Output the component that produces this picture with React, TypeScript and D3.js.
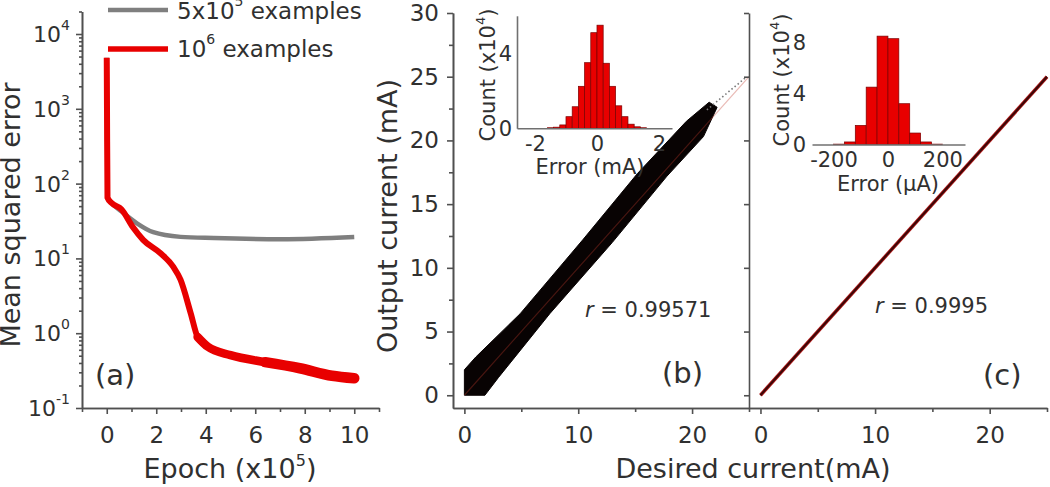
import * as d3 from 'd3'
import { useEffect, useRef } from 'react'

// (a) training curves, epoch in units of 1e5
const epochLarge = [0, 0.01, 0.03, 0.2, 0.6, 1.06, 1.47, 2.16, 2.69, 2.98, 3.39, 3.67, 4.08, 5.0, 6.4, 7.8, 9.1, 10.0]
const mseLarge = [4800, 1000, 65, 55, 45, 26, 17.7, 11.8, 7.7, 5.2, 1.86, 0.89, 0.66, 0.51, 0.41, 0.34, 0.27, 0.25]
const epochSmall = [0, 0.01, 0.03, 0.2, 0.65, 1.22, 1.88, 2.98, 4.33, 7.06, 10.0]
const mseSmall = [4800, 1000, 65, 55, 41, 29.5, 22.4, 19.4, 18.7, 18.1, 19.4]
const epochTicks = [0, 2, 4, 6, 8, 10]
const epochMinor = [-1, 1, 3, 5, 7, 9, 11]
const mseExponents = [-1, 0, 1, 2, 3, 4]

// (b) scatter envelope of output vs desired current (mA)
const bandDesired = [0, 0, 1.0, 4.9, 10.4, 15.2, 19.5, 21.5, 22.2, 21.0, 17.8, 13.0, 7.5, 3.0, 1.8]
const bandOutput = [0, 2.0, 3.0, 6.4, 12.2, 17.4, 21.5, 23.0, 22.6, 20.3, 17.2, 12.0, 6.4, 1.4, 0]
const sparseDesired = [21.3, 24.8]
const sparseOutput = [22.4, 25.0]
const fitDesired = [0, 25]
const fitOutput = [0, 25]

// (c) output vs desired
const cDesired = [0, 25]
const cOutput = [0, 25]

const currentTicks = [0, 10, 20]
const currentMinor = [5, 15, 25]
const outputTicks = [0, 5, 10, 15, 20, 25, 30]
const outputMinor = [2.5, 7.5, 12.5, 17.5, 22.5, 27.5]

// inset histograms (count in units of 1e4)
const binWidthB = 0.2
const binsB = [-1.6, -1.4, -1.2, -1.0, -0.8, -0.6, -0.4, -0.2, 0, 0.2, 0.4, 0.6, 0.8, 1.0, 1.2, 1.4]
const countsB = [0.03, 0.06, 0.18, 0.62, 1.15, 2.24, 3.5, 5.1, 5.5, 3.47, 2.24, 1.2, 0.62, 0.22, 0.08, 0.03]
const errorTicksB = [-2, 0, 2]
const countTicksB = [0, 4]

const binWidthC = 40
const binsC = [-200, -160, -120, -80, -40, 0, 40, 80, 120, 160]
const countsC = [0.03, 0.2, 1.5, 4.5, 8.5, 8.3, 3.2, 0.9, 0.2, 0.03]
const errorTicksC = [-200, 0, 200]
const countTicksC = [0, 4, 8]

export default function App() {
  const svgRef = useRef<SVGSVGElement>(null)

  useEffect(() => {
    if (!svgRef.current) return
    const svg = d3.select(svgRef.current)
    svg.selectAll('*').remove()

    const width = 1050
    const height = 487
    svg.attr('width', width).attr('height', height)
    svg.append('rect').attr('width', width).attr('height', height).attr('fill', '#fff')

    const axisColor = '#505050'
    const textColor = '#303030'
    const font = "'DejaVu Sans', sans-serif"

    const styleAxis = (g: any, fontSize = 23, color = axisColor) => {
      g.select('.domain').attr('stroke', color).attr('stroke-width', 1.6)
      g.selectAll('.tick line').attr('stroke', color).attr('stroke-width', 1.6)
      g.selectAll('.tick text')
        .attr('fill', textColor)
        .style('font-family', font)
        .style('font-size', `${fontSize}px`)
      return g
    }

    const label = (x: number, y: number, size: number, anchor = 'middle', rotate = false) =>
      svg
        .append('text')
        .attr('transform', rotate ? `translate(${x},${y}) rotate(-90)` : `translate(${x},${y})`)
        .attr('text-anchor', anchor)
        .attr('fill', textColor)
        .style('font-family', font)
        .style('font-size', `${size}px`)

    const withSup = (t: any, before: string, sup: string, after: string, supSize: number, rise: number) => {
      t.append('tspan').text(before)
      t.append('tspan').attr('dy', -rise).style('font-size', `${supSize}px`).text(sup)
      t.append('tspan').attr('dy', rise).text(after)
    }

    // ---------- (a) Mean squared error vs epoch ----------
    const xA = d3.scaleLinear().domain([-1, 11]).range([82, 379])
    const yA = d3.scaleLog().domain([0.1, 20000]).range([408, 11.5])

    const lineA = d3
      .line<[number, number]>()
      .x(d => xA(d[0]))
      .y(d => yA(d[1]))
      .curve(d3.curveMonotoneX)

    const small = d3.zip(epochSmall, mseSmall) as [number, number][]
    const large = d3.zip(epochLarge, mseLarge) as [number, number][]

    svg.append('path').datum(small).attr('fill', 'none').attr('stroke', '#7f7f7f').attr('stroke-width', 4.5).attr('d', lineA)
    svg.append('path').datum(large).attr('fill', 'none').attr('stroke', '#e80000').attr('stroke-width', 6).attr('d', lineA)
    // noisy tail looks thicker
    svg.append('path').datum(large.filter(d => d[0] >= 3.67)).attr('fill', 'none').attr('stroke', '#e80000').attr('stroke-width', 8.5).attr('stroke-linecap', 'round').attr('d', lineA)
    svg.append('path').datum(large.filter(d => d[0] >= 6.4)).attr('fill', 'none').attr('stroke', '#e80000').attr('stroke-width', 10.5).attr('stroke-linecap', 'round').attr('d', lineA)

    // X axis
    styleAxis(
      svg.append('g').attr('transform', 'translate(0,408)')
        .call(d3.axisBottom(xA).tickValues(epochMinor).tickSize(4).tickSizeOuter(0).tickFormat(() => ''))
    )
    styleAxis(
      svg.append('g').attr('transform', 'translate(0,408)')
        .call(d3.axisBottom(xA).tickValues(epochTicks).tickSize(6).tickSizeOuter(0).tickPadding(13).tickFormat(d => String(d)))
    )

    // Y axis (log)
    const mseMinor: number[] = []
    mseExponents.slice(0, -1).forEach(e => {
      for (let m = 2; m <= 9; m++) mseMinor.push(m * Math.pow(10, e))
    })
    mseMinor.push(20000)
    styleAxis(
      svg.append('g').attr('transform', 'translate(82,0)')
        .call(d3.axisLeft(yA).tickValues(mseMinor).tickSize(3).tickSizeOuter(0).tickFormat(() => ''))
    )
    styleAxis(
      svg.append('g').attr('transform', 'translate(82,0)')
        .call(d3.axisLeft(yA).tickValues(mseExponents.map(e => Math.pow(10, e))).tickSize(6).tickSizeOuter(0).tickFormat(() => ''))
    )
    mseExponents.forEach(e => {
      const t = label(70, yA(Math.pow(10, e)) + 8, 22, 'end')
      withSup(t, '10', String(e), '', 14, 12)
    })

    // Legend
    svg.append('line').attr('x1', 108).attr('x2', 168).attr('y1', 10).attr('y2', 10).attr('stroke', '#7f7f7f').attr('stroke-width', 4.5)
    withSup(label(177, 19, 23, 'start'), '5x10', '5', ' examples', 14, 13)
    svg.append('line').attr('x1', 108).attr('x2', 168).attr('y1', 49).attr('y2', 49).attr('stroke', '#e80000').attr('stroke-width', 5.5)
    withSup(label(177, 57, 23, 'start'), '10', '6', ' examples', 14, 13)

    withSup(label(230, 478, 27), 'Epoch (x10', '5', ')', 16, 12)
    label(20, 215, 27, 'middle', true).text('Mean squared error')
    label(95, 385, 29, 'start').text('(a)')

    // ---------- (b) Output vs desired current ----------
    const xB = d3.scaleLinear().domain([-1, 25]).range([453, 749])
    const yO = d3.scaleLinear().domain([-1, 30]).range([408, 13])

    const lineB = d3
      .line<[number, number]>()
      .x(d => xB(d[0]))
      .y(d => yO(d[1]))

    svg.append('path')
      .datum(d3.zip(bandDesired, bandOutput) as [number, number][])
      .attr('fill', '#080303')
      .attr('stroke', '#080303')
      .attr('stroke-width', 1)
      .attr('stroke-linejoin', 'round')
      .attr('d', lineB.curve(d3.curveLinearClosed))
    lineB.curve(d3.curveLinear)
    svg.append('path')
      .datum(d3.zip(sparseDesired, sparseOutput) as [number, number][])
      .attr('fill', 'none').attr('stroke', '#777').attr('stroke-width', 1.6).attr('stroke-dasharray', '1.5 2.5')
      .attr('d', lineB)
    svg.append('path')
      .datum(d3.zip(fitDesired, fitOutput) as [number, number][])
      .attr('fill', 'none').attr('stroke', '#c0392b').attr('stroke-opacity', 0.35).attr('stroke-width', 1.2)
      .attr('d', lineB)

    styleAxis(
      svg.append('g').attr('transform', 'translate(0,408)')
        .call(d3.axisBottom(xB).tickValues(currentMinor).tickSize(4).tickSizeOuter(0).tickFormat(() => ''))
    )
    styleAxis(
      svg.append('g').attr('transform', 'translate(0,408)')
        .call(d3.axisBottom(xB).tickValues(currentTicks).tickSize(6).tickSizeOuter(0).tickPadding(13).tickFormat(d => String(d)))
    )
    styleAxis(
      svg.append('g').attr('transform', 'translate(453,0)')
        .call(d3.axisLeft(yO).tickValues(outputMinor).tickSize(4).tickSizeOuter(0).tickFormat(() => ''))
    )
    styleAxis(
      svg.append('g').attr('transform', 'translate(453,0)')
        .call(d3.axisLeft(yO).tickValues(outputTicks).tickSize(6).tickSizeOuter(0).tickPadding(8).tickFormat(d => String(d)))
    )

    label(397, 216, 27, 'middle', true).text('Output current (mA)')
    const rB = label(585, 317, 21, 'start')
    rB.append('tspan').style('font-style', 'italic').text('r')
    rB.append('tspan').text(' = 0.99571')
    label(662, 383, 29, 'start').text('(b)')

    // inset histogram (b)
    const xH1 = d3.scaleLinear().domain([-2.58, 2.42]).range([517, 672])
    const yH1 = d3.scaleLinear().domain([0, 6]).range([128.3, 15.8])
    svg.selectAll('.barB')
      .data(d3.zip(binsB, countsB))
      .enter()
      .append('rect')
      .attr('class', 'barB')
      .attr('x', d => xH1(d[0]))
      .attr('y', d => yH1(d[1]))
      .attr('width', xH1(binWidthB) - xH1(0))
      .attr('height', d => yH1(0) - yH1(d[1]))
      .attr('fill', '#e80000')
      .attr('stroke', '#7a0000')
      .attr('stroke-width', 0.7)
    styleAxis(
      svg.append('g').attr('transform', `translate(0,${yH1(0)})`)
        .call(d3.axisBottom(xH1).tickValues(errorTicksB).tickSize(0).tickSizeOuter(0).tickPadding(8).tickFormat(d => String(d))),
      21, '#707070'
    )
    styleAxis(
      svg.append('g').attr('transform', 'translate(517,0)')
        .call(d3.axisLeft(yH1).tickValues(countTicksB).tickSize(0).tickSizeOuter(0).tickPadding(5).tickFormat(d => String(d))),
      21, '#707070'
    )
    label(590, 174, 21).text('Error (mA)')
    withSup(label(495, 75, 21, 'middle', true), 'Count (x10', '4', ')', 13, 10)

    // ---------- (c) Output vs desired current ----------
    const xC = d3.scaleLinear().domain([-1, 25]).range([749, 1047])
    const lineC = d3
      .line<[number, number]>()
      .x(d => xC(d[0]))
      .y(d => yO(d[1]))
    const cData = d3.zip(cDesired, cOutput) as [number, number][]
    svg.append('path').datum(cData).attr('fill', 'none').attr('stroke', '#b01818').attr('stroke-width', 3.6).attr('d', lineC)
    svg.append('path').datum(cData).attr('fill', 'none').attr('stroke', '#3a0808').attr('stroke-width', 2).attr('d', lineC)

    styleAxis(
      svg.append('g').attr('transform', 'translate(0,408)')
        .call(d3.axisBottom(xC).tickValues(currentMinor).tickSize(4).tickSizeOuter(0).tickFormat(() => ''))
    )
    styleAxis(
      svg.append('g').attr('transform', 'translate(0,408)')
        .call(d3.axisBottom(xC).tickValues(currentTicks).tickSize(6).tickSizeOuter(0).tickPadding(13).tickFormat(d => String(d)))
    )
    styleAxis(
      svg.append('g').attr('transform', 'translate(749,0)')
        .call(d3.axisLeft(yO).tickValues(outputTicks).tickSize(5).tickSizeOuter(0).tickFormat(() => ''))
    )

    const rC = label(875, 313, 21, 'start')
    rC.append('tspan').style('font-style', 'italic').text('r')
    rC.append('tspan').text(' = 0.9995')
    label(983, 385, 29, 'start').text('(c)')

    // inset histogram (c)
    const xH2 = d3.scaleLinear().domain([-279, 283]).range([812, 965])
    const yH2 = d3.scaleLinear().domain([0, 9]).range([144.5, 29.75])
    svg.selectAll('.barC')
      .data(d3.zip(binsC, countsC))
      .enter()
      .append('rect')
      .attr('class', 'barC')
      .attr('x', d => xH2(d[0]))
      .attr('y', d => yH2(d[1]))
      .attr('width', xH2(binWidthC) - xH2(0))
      .attr('height', d => yH2(0) - yH2(d[1]))
      .attr('fill', '#e80000')
      .attr('stroke', '#7a0000')
      .attr('stroke-width', 0.7)
    styleAxis(
      svg.append('g').attr('transform', `translate(0,${yH2(0)})`)
        .call(d3.axisBottom(xH2).tickValues(errorTicksC).tickSize(0).tickSizeOuter(0).tickPadding(8).tickFormat(d => String(d))),
      21, '#707070'
    )
    const yAxC = styleAxis(
      svg.append('g').attr('transform', 'translate(810,0)')
        .call(d3.axisLeft(yH2).tickValues(countTicksC).tickSize(0).tickSizeOuter(0).tickPadding(4).tickFormat(d => String(d))),
      21
    )
    yAxC.select('.domain').remove()
    label(888, 191, 21).text('Error (μA)')
    withSup(label(789, 80, 21, 'middle', true), 'Count (x10', '4', ')', 13, 10)

    label(753, 478, 27).text('Desired current(mA)')
  }, [])

  return (
    <svg
      ref={svgRef}
      style={{ position: 'absolute', left: 0, top: 0, display: 'block' }}
    ></svg>
  )
}
